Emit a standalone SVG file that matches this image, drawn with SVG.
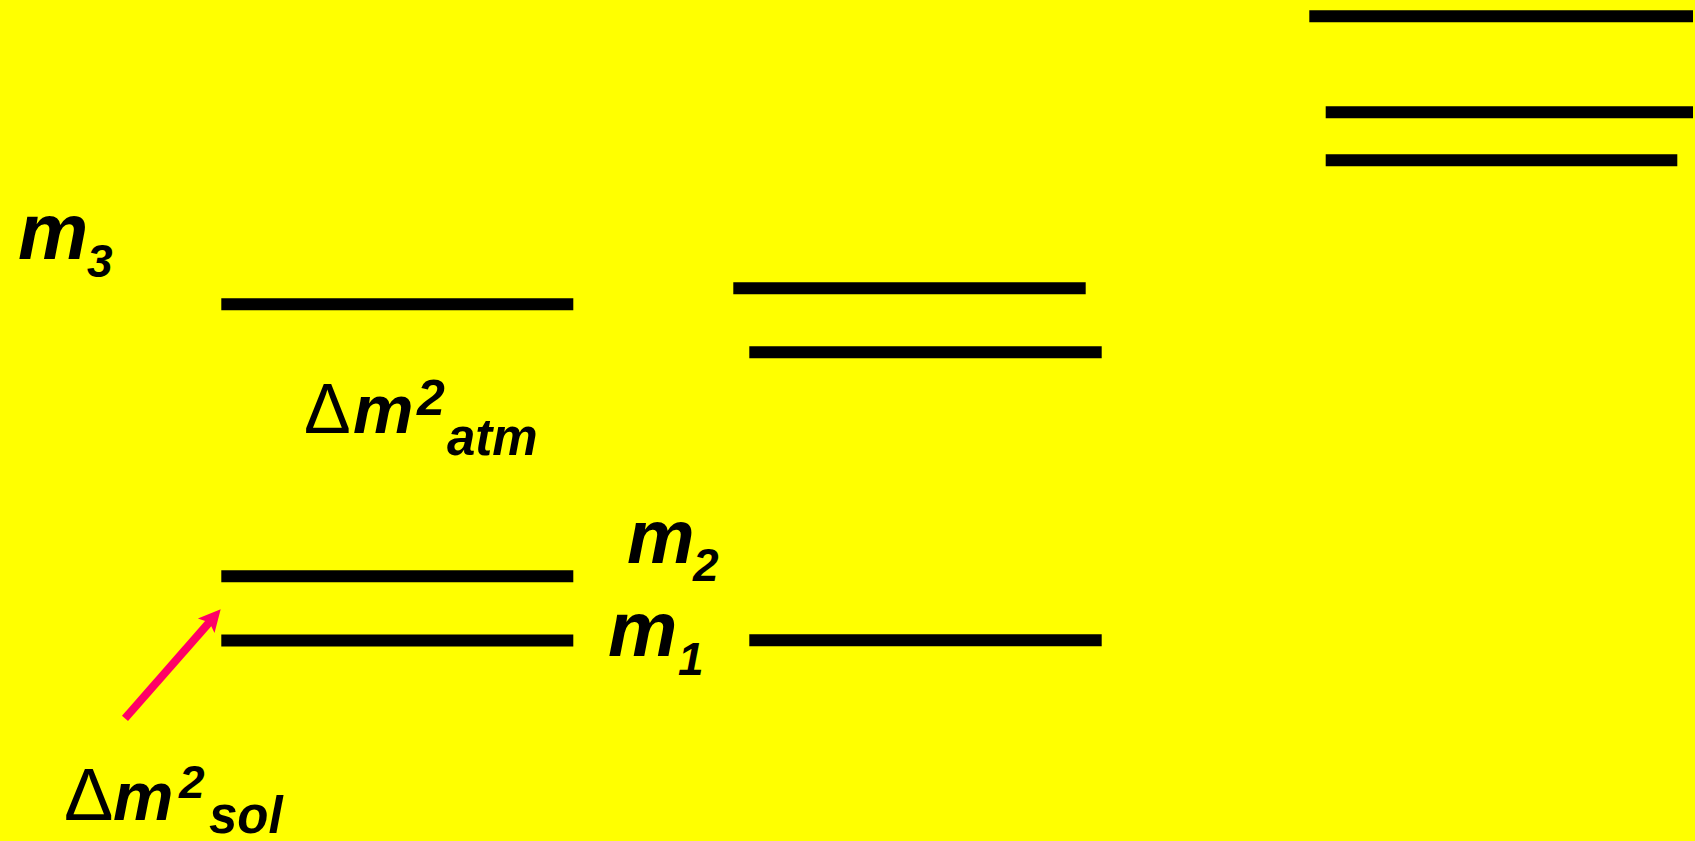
<svg xmlns="http://www.w3.org/2000/svg" width="1695" height="841" viewBox="0 0 1695 841">
<style>
.lvl{stroke:#000;stroke-width:12;fill:none}
.t{font-family:"Liberation Sans",Arial,sans-serif;font-weight:bold;font-style:italic;fill:#000}
.d{font-family:"Liberation Sans",Arial,sans-serif;font-weight:normal;font-style:normal;fill:#000}
.arr{stroke:#FF0066;stroke-width:8;fill:none}
.ah{fill:#FF0066}
</style>
<rect width="1695" height="841" fill="#FFFF00"/>
<g id="levels">
<line id="n-left-m3" class="lvl" x1="221.3" y1="304.3" x2="573.3" y2="304.3"/>
<line id="n-left-m2" class="lvl" x1="221.3" y1="576.3" x2="573.3" y2="576.3"/>
<line id="n-left-m1" class="lvl" x1="221.3" y1="640.4" x2="573.3" y2="640.4"/>
<line id="n-mid-a" class="lvl" x1="733.3" y1="288.3" x2="1085.7" y2="288.3"/>
<line id="n-mid-b" class="lvl" x1="749.3" y1="352.3" x2="1101.7" y2="352.3"/>
<line id="n-mid-c" class="lvl" x1="749.3" y1="640.3" x2="1101.7" y2="640.3"/>
<line id="n-right-a" class="lvl" x1="1309.3" y1="16.3" x2="1693" y2="16.3"/>
<line id="n-right-b" class="lvl" x1="1325.7" y1="112.3" x2="1693" y2="112.3"/>
<line id="n-right-c" class="lvl" x1="1325.7" y1="160.3" x2="1677.3" y2="160.3"/>
</g>
<g id="connectors">
<line class="arr" x1="125" y1="718.3" x2="210.5" y2="621"/>
<polygon class="ah" points="220.7,609.3 214.5,633.1 209.5,622.5 197.9,618.5"/>
</g>
<g id="label-m3">
<text class="t" x="18" y="259" font-size="79">m</text>
<text class="t" x="87" y="277" font-size="46">3</text>
</g>
<g id="label-m2">
<text class="t" x="627" y="563" font-size="76">m</text>
<text class="t" x="693" y="581" font-size="46">2</text>
</g>
<g id="label-m1">
<text class="t" x="608" y="656" font-size="78">m</text>
<text class="t" x="678" y="675" font-size="46">1</text>
</g>
<g id="label-dm2-atm">
<text class="d" x="304" y="433" font-size="70">Δ</text>
<text class="t" x="353" y="433" font-size="68">m</text>
<text class="t" x="417" y="415" font-size="50">2</text>
<text class="t" x="447" y="455" font-size="51">atm</text>
</g>
<g id="label-dm2-sol">
<text class="d" x="64" y="820" font-size="74">Δ</text>
<text class="t" x="113" y="820" font-size="68">m</text>
<text class="t" x="179" y="798" font-size="46">2</text>
<text class="t" x="209" y="833" font-size="51">sol</text>
</g>
</svg>
